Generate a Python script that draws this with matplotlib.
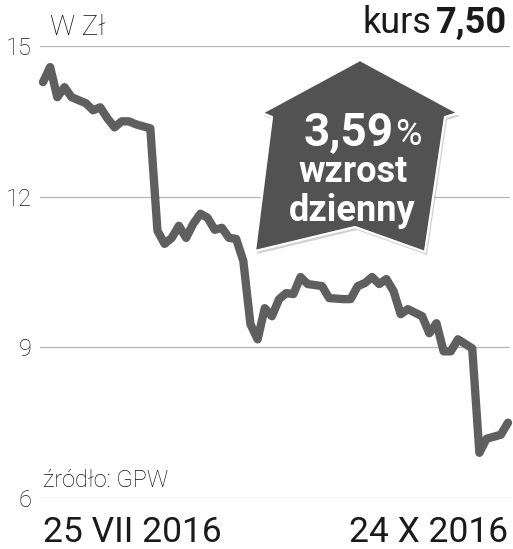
import matplotlib
matplotlib.use("Agg")
import matplotlib.pyplot as plt
from matplotlib.patches import Polygon

# kurs akcji, sesje od 25 VII do 24 X 2016 (numer sesji, cena w zł)
days = [0, 1, 2, 3, 4, 5, 6, 7, 8, 9, 10, 11, 12, 13, 15,
        16, 17, 18, 19, 20, 21, 22, 23, 24, 25, 26, 27, 28, 29, 30,
        31, 32, 33, 34, 35, 36, 37, 39, 40, 42, 43, 44, 45, 46, 47,
        48, 49, 50, 51, 53, 54, 55, 56, 57, 58, 60, 61, 62, 64, 65]
price = [14.28, 14.58, 13.98, 14.18, 13.98, 13.92, 13.86, 13.72, 13.78, 13.56,
         13.38, 13.50, 13.50, 13.44, 13.36,
         11.32, 11.06, 11.18, 11.42, 11.18, 11.46, 11.66, 11.58, 11.34, 11.38,
         11.18, 11.16, 10.72, 9.46, 9.16,
         9.78, 9.62, 9.96, 10.08, 10.06, 10.40, 10.26, 10.22, 9.98, 9.96,
         9.96, 10.22, 10.28, 10.40, 10.26,
         10.36, 10.12, 9.66, 9.76, 9.62, 9.28, 9.48, 8.92, 8.92, 9.16,
         8.98, 6.90, 7.18, 7.26, 7.50]
yticks = [6, 9, 12, 15]
date_start = "25 VII 2016"
date_end = "24 X 2016"
change = "3,59"

W, H = 513, 549
fig = plt.figure(figsize=(W / 100, H / 100), dpi=100)
fig.patch.set_facecolor("white")


def px(x, y):
    return x / W, 1 - y / H


ax = fig.add_axes([40 / W, (H - 498) / H, 470 / W, 452 / H])
ax.plot(days, price, color="#5f5f5f", lw=6, solid_joinstyle="round",
        solid_capstyle="round", clip_on=False, zorder=3)
ax.set_xlim(-0.42, 65.28)
ax.set_ylim(6, 15)
ax.set_yticks(yticks)
ax.set_xticks([])
ax.grid(axis="y", color="#b4b4b4", lw=0.9)
for s in ax.spines.values():
    s.set_visible(False)
ax.tick_params(axis="y", length=0, pad=6, labelsize=17, labelcolor="#1a1a1a")
for lab in ax.get_yticklabels():
    lab.set_fontfamily("Roboto")
    lab.set_fontweight("light")

light = dict(family="Roboto", weight="light", color="#111111")
fig.text(*px(50, 35), "W Zł", fontsize=20, va="baseline", **light)
fig.text(*px(43, 487), "źródło: GPW", fontsize=17, va="baseline", **light)
fig.text(*px(431, 33), "kurs", fontsize=26, family="Roboto", color="#1a1a1a",
         ha="right", va="baseline")
fig.text(*px(507, 33), "7,50", fontsize=26, family="Roboto", weight="bold",
         color="#1a1a1a", ha="right", va="baseline")
fig.text(*px(43, 542), date_start, fontsize=25.5, family="Roboto",
         color="#1a1a1a", va="baseline")
fig.text(*px(508, 542), date_end, fontsize=25.5, family="Roboto",
         color="#1a1a1a", ha="right", va="baseline")

# strzałka w górę z dzienną zmianą
outline = [(360, 60), (458, 113), (445, 117), (425, 252), (355, 227),
           (255, 251), (272, 117), (262, 113)]
shadow = Polygon([px(x + 2, y + 3) for x, y in outline], closed=True,
                 transform=fig.transFigure, facecolor="#000000", alpha=0.18,
                 edgecolor="none", zorder=4)
badge = Polygon([px(x, y) for x, y in outline], closed=True,
                transform=fig.transFigure, facecolor="#525252",
                edgecolor="white", lw=1.6, joinstyle="round", zorder=5)
fig.add_artist(shadow)
fig.add_artist(badge)
bold = dict(family="Roboto", weight="bold", color="white", va="baseline",
            zorder=6)
fig.text(*px(394, 145), change, fontsize=33, ha="right", **bold)
fig.text(*px(395, 145), "%", fontsize=26, family="Roboto", color="white",
         va="baseline", zorder=6)
fig.text(*px(353, 182), "wzrost", fontsize=26, ha="center", **bold)
fig.text(*px(352, 221), "dzienny", fontsize=26, ha="center", **bold)

fig.savefig("out.png", dpi=100, facecolor="white")
